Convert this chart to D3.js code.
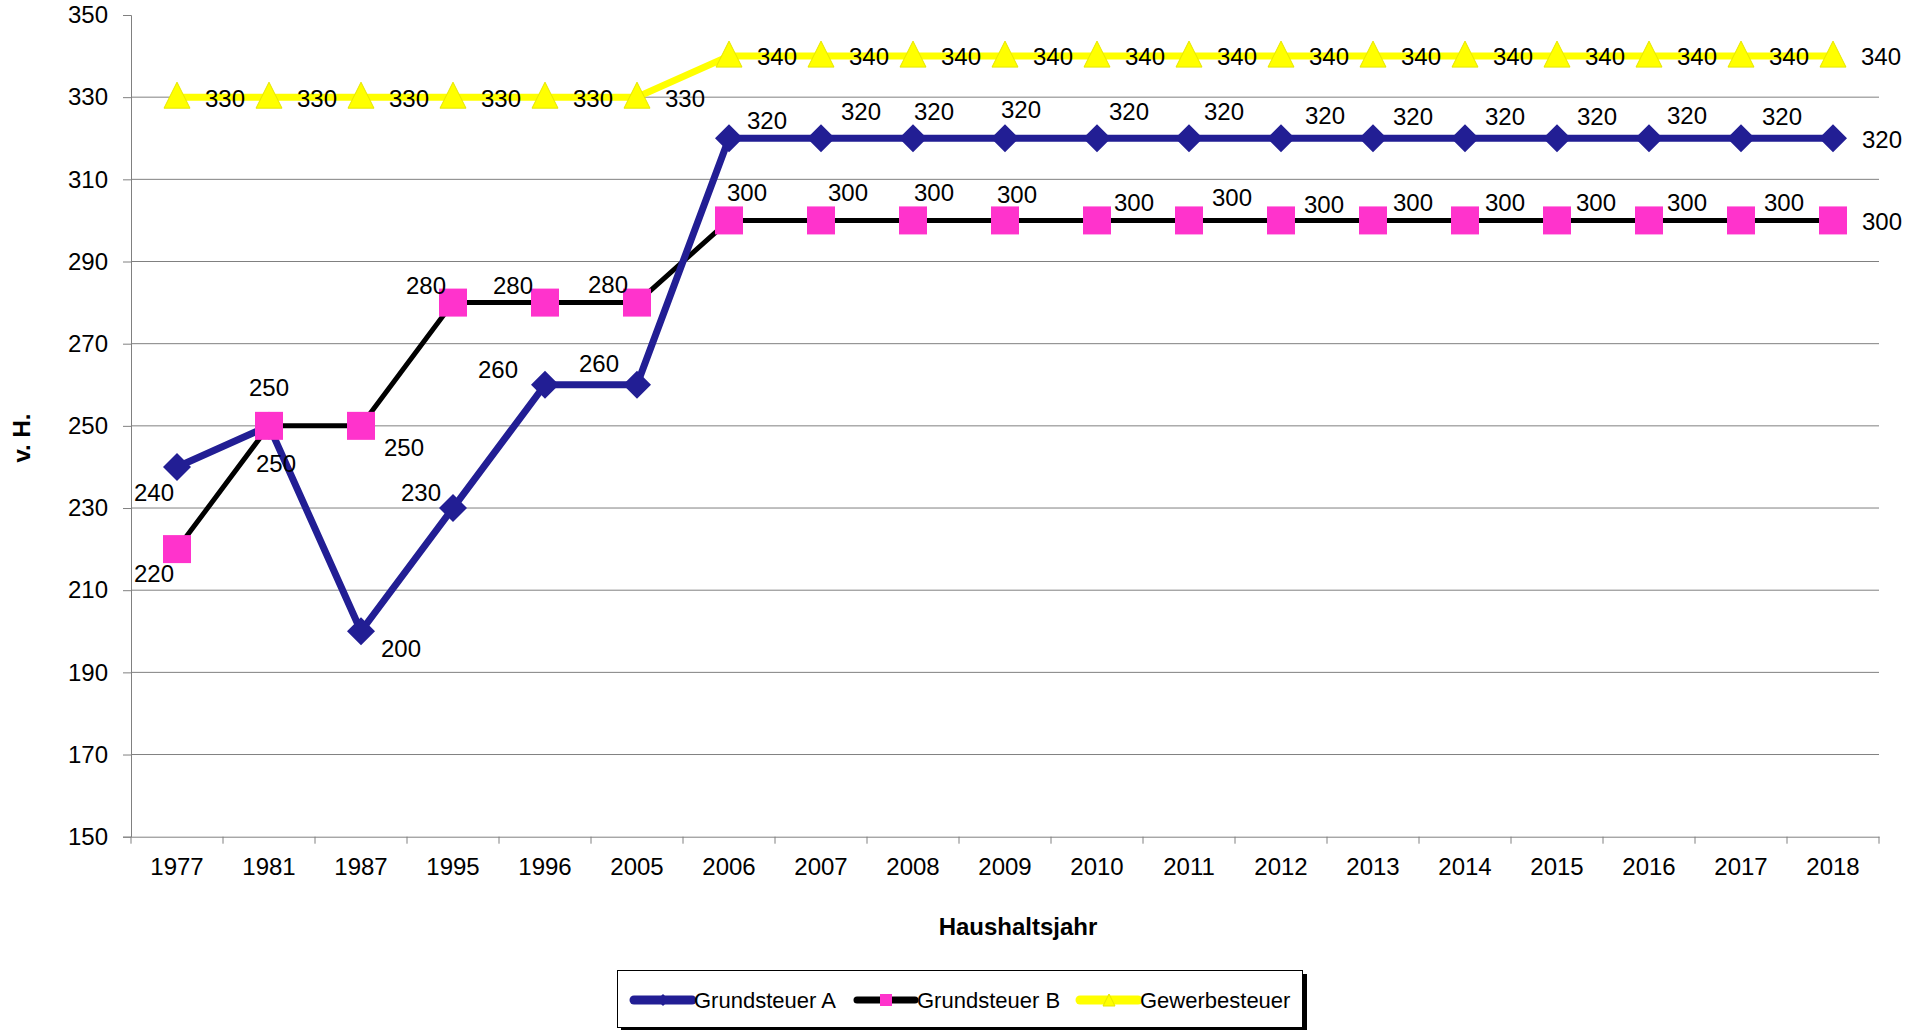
<!DOCTYPE html>
<html>
<head>
<meta charset="utf-8">
<script src="https://cdn.jsdelivr.net/npm/d3@7"></script>
<style>
  body { margin: 0; background: #fff; }
  text { font-family: "Liberation Sans", Arial, sans-serif; }
</style>
</head>
<body>
<div id="chart"></div>
<script>
// data
var years = ["1977", "1981", "1987", "1995", "1996", "2005", "2006", "2007", "2008", "2009",
             "2010", "2011", "2012", "2013", "2014", "2015", "2016", "2017", "2018"];
var grundsteuerA = [240, 250, 200, 230, 260, 260, 320, 320, 320, 320, 320, 320, 320, 320, 320, 320, 320, 320, 320];
var grundsteuerB = [220, 250, 250, 280, 280, 280, 300, 300, 300, 300, 300, 300, 300, 300, 300, 300, 300, 300, 300];
var gewerbesteuer = [330, 330, 330, 330, 330, 330, 340, 340, 340, 340, 340, 340, 340, 340, 340, 340, 340, 340, 340];
var yTicks = [150, 170, 190, 210, 230, 250, 270, 290, 310, 330, 350];
var seriesNames = ["Grundsteuer A", "Grundsteuer B", "Gewerbesteuer"];

// where the data labels sit relative to their point (like excel placed them)
var offA = [[-23,26],[7,38],[40,17],[-32,-15],[-47,-15],[-38,-21],[38,-18],[40,-27],[21,-27],[16,-29],
            [32,-27],[35,-27],[44,-23],[40,-22],[40,-22],[40,-22],[38,-23],[41,-22],[49,1]];
var offB = [[-23,24],[0,-38],[43,22],[-27,-17],[-32,-17],[-29,-18],[18,-28],[27,-28],[21,-28],[12,-26],
            [37,-18],[43,-23],[43,-16],[40,-18],[40,-18],[39,-18],[38,-18],[43,-18],[49,1]];

var svgWidth = 1909;
var svgHeight = 1030;
var margin = { top: 15, right: 30, bottom: 193, left: 131 };
var width = 1879 - margin.left;
var height = 836.7 - margin.top;

var svg = d3.select("#chart")
    .append("svg")
    .attr("width", svgWidth)
    .attr("height", svgHeight);

var g = svg.append("g")
    .attr("transform", `translate(${margin.left}, ${margin.top})`);

var x = d3.scaleBand().domain(years).range([0, width]).padding(0);
var y = d3.scaleLinear().domain([150, 350]).range([height, 0]);
var cx = function(i) { return x(years[i]) + x.bandwidth() / 2; };

// gridlines
g.selectAll(".grid")
    .data(yTicks.filter(d => d > 150 && d < 350))
    .enter()
    .append("line")
    .attr("x1", 0)
    .attr("x2", width)
    .attr("y1", d => y(d))
    .attr("y2", d => y(d))
    .attr("stroke", "#808080")
    .attr("stroke-width", 1);

// y axis
var yAxis = g.append("g")
    .call(d3.axisLeft(y).tickValues(yTicks).tickSize(8).tickPadding(15));
yAxis.selectAll("text").attr("font-size", 24).attr("fill", "#000")
    .style("font-family", "Liberation Sans, Arial, sans-serif");
yAxis.selectAll("line").attr("stroke", "#808080");
yAxis.select(".domain").attr("stroke", "#808080");

// x axis (labels centred in bands, ticks on band edges)
var xAxis = g.append("g")
    .attr("transform", `translate(0, ${height})`)
    .call(d3.axisBottom(x).tickSize(0).tickPadding(21));
xAxis.selectAll("text").attr("font-size", 24).attr("fill", "#000")
    .style("font-family", "Liberation Sans, Arial, sans-serif");
xAxis.select(".domain").attr("stroke", "#808080");
var edges = years.map(d => x(d)).concat([width]);
xAxis.selectAll(".edge")
    .data(edges)
    .enter()
    .append("line")
    .attr("x1", d => d)
    .attr("x2", d => d)
    .attr("y1", 0)
    .attr("y2", 7)
    .attr("stroke", "#808080");

var line = d3.line()
    .x((d, i) => cx(i))
    .y(d => y(d));

var series = [
    { name: seriesNames[0], values: grundsteuerA, color: "#221e94", width: 7, marker: "diamond", off: offA },
    { name: seriesNames[1], values: grundsteuerB, color: "#000000", width: 5, marker: "square", fill: "#ff33cc", off: offB },
    { name: seriesNames[2], values: gewerbesteuer, color: "#ffff00", width: 7, marker: "triangle", fill: "#ffff00", off: null }
];

// lines
[2, 1, 0].forEach(function(k) {
    g.append("path")
        .datum(series[k].values)
        .attr("d", line)
        .attr("fill", "none")
        .attr("stroke", series[k].color)
        .attr("stroke-width", series[k].width)
        .attr("stroke-linejoin", "round");
});

function markerPath(type, s) {
    if (type === "diamond") return `M0,${-s} L${s},0 L0,${s} L${-s},0 Z`;
    if (type === "square") return `M${-s},${-s} H${s} V${s} H${-s} Z`;
    return `M0,${-s} L${s},${s} L${-s},${s} Z`;
}

// markers
g.selectAll(".mA").data(grundsteuerA).enter().append("path")
    .attr("transform", (d, i) => `translate(${cx(i)}, ${y(d)})`)
    .attr("d", markerPath("diamond", 14))
    .attr("fill", "#221e94");
g.selectAll(".mB").data(grundsteuerB).enter().append("path")
    .attr("transform", (d, i) => `translate(${cx(i)}, ${y(d)})`)
    .attr("d", markerPath("square", 14))
    .attr("fill", "#ff33cc");
g.selectAll(".mG").data(gewerbesteuer).enter().append("path")
    .attr("transform", (d, i) => `translate(${cx(i)}, ${y(d) - 2})`)
    .attr("d", markerPath("triangle", 13))
    .attr("fill", "#ffff00")
    .attr("stroke", "#e6e600")
    .attr("stroke-width", 1);

// data labels
function labels(vals, off, cls) {
    g.selectAll("." + cls).data(vals).enter().append("text")
        .attr("class", cls)
        .attr("x", (d, i) => cx(i) + (off ? off[i][0] : 48))
        .attr("y", (d, i) => y(d) + (off ? off[i][1] : 1))
        .attr("dy", "0.35em")
        .attr("text-anchor", "middle")
        .attr("font-size", 24)
        .text(d => d);
}
labels(grundsteuerA, offA, "lA");
labels(grundsteuerB, offB, "lB");
labels(gewerbesteuer, null, "lG");

// axis titles
svg.append("text")
    .attr("x", 1018)
    .attr("y", 935)
    .attr("text-anchor", "middle")
    .attr("font-size", 24)
    .attr("font-weight", "bold")
    .text("Haushaltsjahr");

svg.append("text")
    .attr("transform", "translate(30, 438) rotate(-90)")
    .attr("text-anchor", "middle")
    .attr("font-size", 24)
    .attr("font-weight", "bold")
    .text("v. H.");

// legend
var lg = svg.append("g");
lg.append("rect").attr("x", 621).attr("y", 974).attr("width", 686).attr("height", 58).attr("fill", "#000");
lg.append("rect").attr("x", 617.5).attr("y", 970.5).attr("width", 685).attr("height", 57)
    .attr("fill", "#fff").attr("stroke", "#000").attr("stroke-width", 1);

var legendX = [634, 857, 1080];
var legendY = 1000;
series.forEach(function(s, k) {
    var x0 = legendX[k];
    lg.append("line")
        .attr("x1", x0).attr("x2", x0 + 58)
        .attr("y1", legendY).attr("y2", legendY)
        .attr("stroke", s.color)
        .attr("stroke-width", s.width + 2)
        .attr("stroke-linecap", "round");
    var mk = lg.append("path")
        .attr("transform", `translate(${x0 + 29}, ${legendY})`)
        .attr("d", markerPath(s.marker, s.marker === "diamond" ? 6 : 6))
        .attr("fill", s.fill || s.color);
    if (s.marker === "triangle") mk.attr("stroke", "#e6e600");
    lg.append("text")
        .attr("x", x0 + 60)
        .attr("y", legendY)
        .attr("dy", "0.35em")
        .attr("font-size", 22)
        .text(s.name);
});
</script>
</body>
</html>
